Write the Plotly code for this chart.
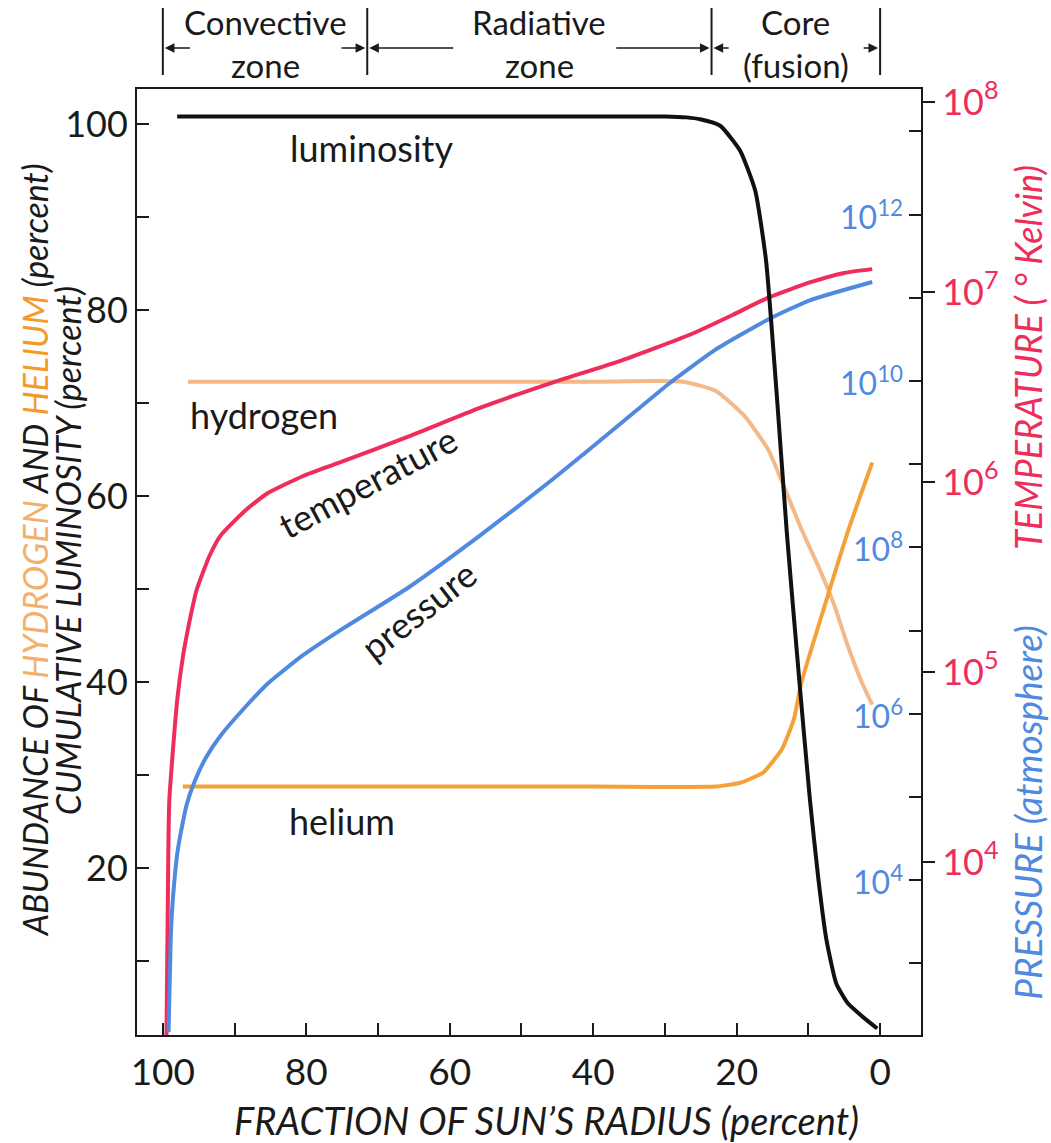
import math
import plotly.graph_objects as go

# ---------------- data ----------------
# x = fraction of sun's radius (percent)
lum_r = [98.0, 80, 60, 40, 30, 27.0, 25.1, 22.3, 19.5, 17.4, 15.9, 14.4, 13.0, 11.3, 9.8,
         8.6, 7.5, 6.1, 4.5, 2.5, 0.4]
lum_v = [100.8, 100.8, 100.8, 100.8, 100.8, 100.7, 100.5, 99.8, 97.1, 92.8, 85.3, 70.8, 56.0,
         40.5, 27.5, 18.8, 12.4, 7.6, 5.5, 4.1, 2.8]

temp_r = [99.5, 99.3, 99.1, 98.0, 97.2, 96.2, 95.3, 93.5, 91.9, 88.5, 85.4, 80.5, 75.5, 65.7,
          55.8, 45.9, 36.0, 26.2, 20.5, 15.6, 9.8, 5.0, 1.1]
temp_log = [3.05, 3.8, 4.32, 4.85, 5.08, 5.28, 5.43, 5.61, 5.72, 5.85, 5.94, 6.03, 6.10, 6.24,
            6.39, 6.52, 6.64, 6.78, 6.88, 6.97, 7.05, 7.10, 7.12]

pres_r = [99.2, 98.9, 98.6, 97.9, 96.7, 95.5, 94.0, 91.9, 88.5, 85.4, 80.5, 75.5, 65.7, 55.8,
          45.9, 36.0, 29.4, 22.9, 15.6, 9.8, 1.1]
pres_log = [2.17, 3.3, 3.77, 4.37, 4.90, 5.20, 5.47, 5.74, 6.08, 6.36, 6.70, 6.99, 7.52, 8.14,
            8.80, 9.50, 9.97, 10.38, 10.74, 10.97, 11.19]

hyd_r = [96.5, 80, 60, 40, 27.5, 22.9, 19.0, 15.6, 13.7, 11.0, 8.4, 6.4, 4.5, 2.5, 1.1]
hyd_v = [72.3, 72.3, 72.3, 72.3, 72.3, 71.3, 68.7, 65.0, 61.6, 56.5, 52.1, 48.3, 43.9, 39.9, 37.6]

hel_r = [97.2, 80, 60, 40, 22.9, 19.5, 17.6, 16.3, 13.7, 12.0, 11.0, 7.7, 4.5, 1.1]
hel_v = [28.8, 28.8, 28.8, 28.8, 28.8, 29.2, 29.8, 30.3, 32.8, 36.1, 39.9, 48.3, 56.2, 63.6]

temperature = [10 ** v for v in temp_log]
pressure = [10 ** v for v in pres_log]

x_ticks = [0, 20, 40, 60, 80, 100]
x_labels = ["0", "20", "40", "60", "80", "100"]
x_minor_ticks = [10, 30, 50, 70, 90]
left_ticks = [20, 40, 60, 80, 100]
left_labels = ["20", "40", "60", "80", "100"]
left_minor_ticks = [10, 30, 50, 70, 90]
temp_ticks = [1e4, 1e5, 1e6, 1e7, 1e8]
temp_labels = ["10<sup>4</sup>", "10<sup>5</sup>", "10<sup>6</sup>", "10<sup>7</sup>", "10<sup>8</sup>"]
pres_ticks = [1e3, 1e4, 1e5, 1e6, 1e7, 1e8, 1e9, 1e10, 1e11, 1e12, 1e13]
pres_label_vals = [1e4, 1e6, 1e8, 1e10, 1e12]
pres_labels = ["10<sup>4</sup>", "10<sup>6</sup>", "10<sup>8</sup>", "10<sup>10</sup>", "10<sup>12</sup>"]

zone_bounds = [100, 71.5, 23.5, 0]
zone_line1 = ["Convective", "Radiative", "Core"]
zone_line2 = ["zone", "zone", "(fusion)"]
# arrow tails for each zone (left arrow tail, right arrow tail)
zone_arrow_tails = [(96, 75.3), (59.3, 37.0), (20.9, 2.5)]

# ---------------- styling ----------------
FONT = "Lato"
RED = "#ee2d5a"
BLUE = "#4f8ae0"
HYD = "#f3b988"
HEL = "#f4a13a"
INK = "#1a1a1a"

def line(color):
    return dict(color=color, width=4, shape="spline", smoothing=0.5)

fig = go.Figure()
fig.add_trace(go.Scatter(x=hyd_r, y=hyd_v, mode="lines", line=line(HYD), yaxis="y"))
fig.add_trace(go.Scatter(x=hel_r, y=hel_v, mode="lines", line=line(HEL), yaxis="y"))
fig.add_trace(go.Scatter(x=temp_r, y=temperature, mode="lines", line=line(RED), yaxis="y2"))
fig.add_trace(go.Scatter(x=pres_r, y=pressure, mode="lines", line=line(BLUE), yaxis="y3"))
fig.add_trace(go.Scatter(x=lum_r, y=lum_v, mode="lines", line=line("#111111"), yaxis="y4"))

tickfont = dict(family=FONT, size=37, color=INK)
minor_style = dict(ticks="inside", ticklen=12, tickwidth=2, tickcolor=INK, showgrid=False)
fig.update_layout(
    width=1051, height=1143,
    margin=dict(l=137, r=130, t=89, b=108),
    paper_bgcolor="white", plot_bgcolor="white",
    showlegend=False,
    xaxis=dict(range=[103.6, -5.7], tickvals=x_ticks, ticktext=x_labels, ticks="inside", ticklen=12,
               tickwidth=2, tickcolor=INK, showline=True, linecolor=INK, linewidth=2, mirror=True,
               showgrid=False, zeroline=False, tickfont=tickfont, ticklabelstandoff=4,
               minor=dict(tickvals=x_minor_ticks, **minor_style)),
    yaxis=dict(range=[2.1, 103.75], tickvals=left_ticks, ticktext=left_labels, ticks="inside", ticklen=12,
               tickwidth=2, tickcolor=INK, showline=True, linecolor=INK, linewidth=2, mirror=True,
               showgrid=False, zeroline=False, tickfont=dict(family=FONT, size=36, color=INK),
               minor=dict(tickvals=left_minor_ticks, **minor_style)),
    yaxis2=dict(type="log", range=[3.089, 8.068], overlaying="y", side="right", anchor="x",
                tickvals=temp_ticks, ticktext=temp_labels, ticks="outside", ticklen=12, tickwidth=2,
                tickcolor=INK, showline=True, linecolor=INK, linewidth=2, showgrid=False, zeroline=False,
                tickfont=dict(family=FONT, size=36, color=RED)),
    yaxis3=dict(type="log", range=[2.137, 13.51], overlaying="y", side="right", anchor="x",
                tickvals=pres_ticks, ticks="inside", ticklen=12, tickwidth=2, tickcolor=INK,
                showticklabels=False, showline=False, showgrid=False, zeroline=False),
    yaxis4=dict(range=[2.1, 103.75], overlaying="y", visible=False),
)

# pressure tick labels (inside the plot, next to the right axis)
for v, t in zip(pres_label_vals, pres_labels):
    fig.add_annotation(x=0.9796, y=math.log10(v), xref="paper", yref="y3", text=t, showarrow=False,
                       xanchor="right", yanchor="middle", font=dict(family=FONT, size=32, color=BLUE))

# zone brackets
for b in zone_bounds:
    fig.add_shape(type="line", xref="x", yref="paper", x0=b, x1=b, y0=1.0148, y1=1.0856,
                  line=dict(color=INK, width=2))
for i in range(len(zone_line1)):
    left, right = zone_bounds[i], zone_bounds[i + 1]
    mid = (left + right) / 2
    fig.add_annotation(x=mid, y=1.0708, xref="x", yref="paper", text=zone_line1[i], showarrow=False,
                       yanchor="middle", font=dict(family=FONT, size=33, color=INK))
    fig.add_annotation(x=mid, y=1.0254, xref="x", yref="paper", text=zone_line2[i], showarrow=False,
                       yanchor="middle", font=dict(family=FONT, size=33, color=INK))
    tl, tr = zone_arrow_tails[i]
    for head, tail in ((left, tl), (right, tr)):
        fig.add_annotation(x=head, y=1.0433, ax=tail, ay=0, xref="x", yref="paper",
                           axref="x", ayref="pixel", text="", showarrow=True, arrowhead=2,
                           arrowsize=1.2, arrowwidth=1.6, arrowcolor=INK, standoff=2)

# curve labels
lbl = dict(family=FONT, size=36, color=INK)
fig.add_annotation(x=70.9, y=97.4, xref="x", yref="y", text="luminosity", showarrow=False, font=lbl)
fig.add_annotation(x=85.9, y=68.7, xref="x", yref="y", text="hydrogen", showarrow=False, font=lbl)
fig.add_annotation(x=71.5, y=61.5, xref="x", yref="y", text="temperature", showarrow=False, font=lbl, textangle=-28)
fig.add_annotation(x=64.4, y=47.8, xref="x", yref="y", text="pressure", showarrow=False, font=lbl, textangle=-38)
fig.add_annotation(x=75.0, y=25.1, xref="x", yref="y", text="helium", showarrow=False, font=lbl)

# x axis title (slightly right of the plot centre, as in the reference)
fig.add_annotation(x=0.5217, y=-0.0899, xref="paper", yref="paper", showarrow=False,
                   xanchor="center", yanchor="middle",
                   text="<i>FRACTION OF SUN’S RADIUS (percent)</i>",
                   font=dict(family=FONT, size=38, color=INK))

# rotated axis titles
rot = dict(xref="paper", yref="paper", textangle=-90, showarrow=False, xanchor="center", yanchor="middle")
fig.add_annotation(x=-0.1305, y=0.512, **rot,
                   text=("<i>ABUNDANCE OF <span style='color:#f3b06a'>HYDROGEN</span> AND "
                         "<span style='color:#f39a2a'>HELIUM</span> (percent)</i>"),
                   font=dict(family=FONT, size=34, color=INK))
fig.add_annotation(x=-0.0885, y=0.512, **rot,
                   text="<i>CUMULATIVE LUMINOSITY (percent)</i>",
                   font=dict(family=FONT, size=34, color=INK))
fig.add_annotation(x=1.1365, y=0.716, **rot,
                   text="<i>TEMPERATURE ( ° Kelvin)</i>", font=dict(family=FONT, size=36, color=RED))
fig.add_annotation(x=1.1365, y=0.235, **rot,
                   text="<i>PRESSURE (atmosphere)</i>", font=dict(family=FONT, size=37, color=BLUE))

fig.write_html("out.html")
